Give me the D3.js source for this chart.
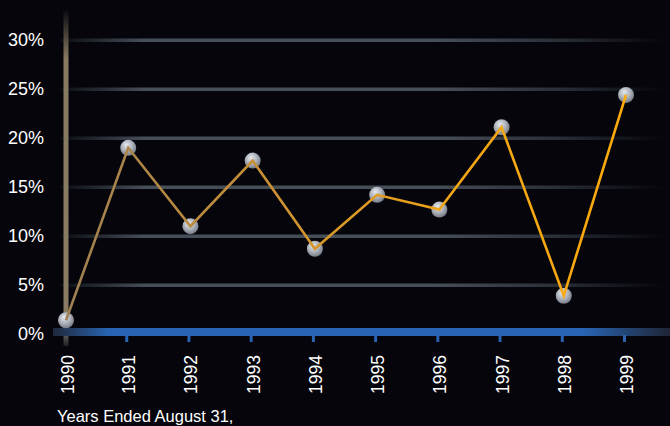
<!DOCTYPE html>
<html><head><meta charset="utf-8">
<script src="https://cdn.jsdelivr.net/npm/d3@7"></script>
<style>
html,body{margin:0;padding:0;background:#05050b;}
svg{display:block;}
text{font-family:"Liberation Sans",Arial,Helvetica,sans-serif;fill:#ffffff;}
</style></head>
<body>
<svg id="chart" width="670" height="426"></svg>
<script>
const years = ["1990","1991","1992","1993","1994","1995","1996","1997","1998","1999"];
const values = [1.4, 19.0, 11.0, 17.7, 8.7, 14.2, 12.7, 21.1, 3.9, 24.4];
const yTicks = [0, 5, 10, 15, 20, 25, 30];
const xTitle = "Years Ended August 31,";

const W = 670, H = 426;
const svg = d3.select("#chart");
svg.append("rect").attr("width", W).attr("height", H).attr("fill", "#05050b");

const x = d3.scalePoint().domain(years).range([66, 626]);
const y = d3.scaleLinear().domain([0, 30]).range([334, 40]);

const defs = svg.append("defs");
function lin(id, x1, x2, y1, y2, stops) {
  const g = defs.append("linearGradient").attr("id", id)
    .attr("gradientUnits", "userSpaceOnUse")
    .attr("x1", x1).attr("x2", x2).attr("y1", y1).attr("y2", y2);
  stops.forEach(s => g.append("stop").attr("offset", s[0]).attr("stop-color", s[1]));
}
lin("gridGrad", 60, 665, 0, 0, [[0, "#0a0c12"], [0.14, "#464e58"], [0.62, "#464e58"], [0.82, "#2a2f38"], [1, "#05050b"]]);
lin("blueGrad", 53, 670, 0, 0, [[0, "#20283a"], [0.09, "#2864b2"], [0.86, "#2864b2"], [1, "#1e2434"]]);
lin("yBarGrad", 0, 0, 10, 336, [[0, "#0a0a10"], [0.15, "#887a60"], [1, "#8a7c62"]]);
lin("yBarLow", 0, 0, 336, 347, [[0, "#555"], [1, "#1a1a1a"]]);
lin("lineGrad", 66, 626, 0, 0, [[0, "#9e8052"], [0.35, "#c99034"], [0.7, "#f2a516"], [1, "#fcaa0c"]]);
const rg = defs.append("radialGradient").attr("id", "ball")
  .attr("cx", "45%").attr("cy", "40%").attr("r", "60%").attr("fx", "38%").attr("fy", "30%");
rg.append("stop").attr("offset", 0).attr("stop-color", "#e6e9ee");
rg.append("stop").attr("offset", 0.55).attr("stop-color", "#b0b5be");
rg.append("stop").attr("offset", 1).attr("stop-color", "#767c86");

// gridlines
svg.append("g").selectAll("rect").data(yTicks.filter(d => d > 0)).join("rect")
  .attr("x", 60).attr("width", 605)
  .attr("y", d => y(d) - 1.5).attr("height", 3.5)
  .attr("fill", "url(#gridGrad)");

// y axis bar
svg.append("rect").attr("x", x("1990") - 2.5).attr("width", 5)
  .attr("y", 10).attr("height", y(0) - 10).attr("fill", "url(#yBarGrad)");
svg.append("rect").attr("x", x("1990") - 2.5).attr("width", 5)
  .attr("y", y(0)).attr("height", 12).attr("fill", "url(#yBarLow)");

// x axis blue bar
svg.append("rect").attr("x", 53).attr("width", 617)
  .attr("y", y(0) - 6).attr("height", 8).attr("fill", "url(#blueGrad)");

// y axis labels
const yAxis = d3.axisLeft(y).tickValues(yTicks).tickFormat(d => d + "%").tickSize(0).tickPadding(22);
const gy = svg.append("g").attr("transform", `translate(${x("1990")},0)`).call(yAxis);
gy.select(".domain").remove();
gy.selectAll("text").style("font-size", "18px").attr("fill", "#fff")
  .attr("font-family", "Liberation Sans, Arial, sans-serif");

// x axis
const xAxis = d3.axisBottom(x).tickSize(7).tickPadding(0);
const gx = svg.append("g").attr("transform", `translate(-2,${y(0) + 1})`).call(xAxis);
gx.select(".domain").remove();
gx.selectAll(".tick line").attr("stroke", "#2864b2").attr("stroke-width", 3)
  .filter(d => d === "1990").remove();
gx.selectAll(".tick text")
  .style("font-size", "17.5px").attr("fill", "#fff")
  .attr("font-family", "Liberation Sans, Arial, sans-serif")
  .attr("text-anchor", "end")
  .attr("dy", null)
  .attr("transform", "translate(8.5,20) rotate(-90)")
  .attr("y", 0).attr("x", 0);
gx.selectAll(".tick").filter(d => d === "1990").attr("transform", `translate(${x("1990") + 1},0)`);

// points
svg.append("g").selectAll("circle").data(years).join("circle")
  .attr("cx", d => x(d)).attr("cy", (d, i) => y(values[i]))
  .attr("r", 8).attr("fill", "url(#ball)");

// line
const line = d3.line().x((d, i) => x(years[i])).y(d => y(d));
svg.append("path").datum(values).attr("d", line)
  .attr("fill", "none").attr("stroke", "url(#lineGrad)").attr("stroke-width", 2.6)
  .attr("stroke-linejoin", "miter");

// title
svg.append("text").attr("x", 57).attr("y", 422).style("font-size", "16.5px").text(xTitle);
</script>
</body></html>
